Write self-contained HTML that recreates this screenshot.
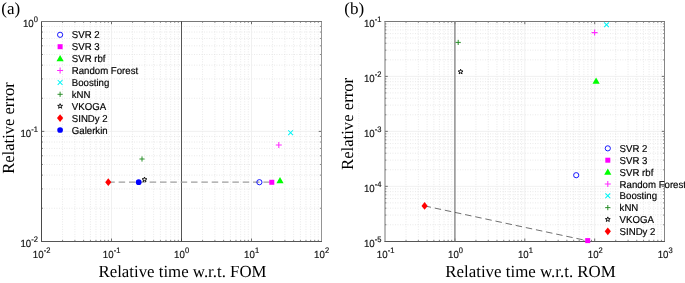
<!DOCTYPE html><html><head><meta charset="utf-8"><title>Relative error vs relative time</title>
<style>html,body{margin:0;padding:0;background:#fff}svg{display:block}text{text-rendering:geometricPrecision}.tk{font-family:"Liberation Sans",Arial,Helvetica,sans-serif;font-size:10.3px;fill:#111;stroke:#111;stroke-width:0.18px}.sup{font-size:8px}.lg{font-family:"Liberation Sans",Arial,Helvetica,sans-serif;font-size:10px;fill:#000;stroke:#000;stroke-width:0.18px}.ax{font-family:"Liberation Serif","Times New Roman",Times,serif;font-size:17px;fill:#000}</style></head><body>
<svg width="685" height="283" viewBox="0 0 685 283">
<rect width="685" height="283" fill="#fff"/>
<line x1="62.57" y1="21.40" x2="62.57" y2="241.35" stroke="#dcdcdc" stroke-width="0.7" stroke-dasharray="0.9 1.6"/>
<line x1="74.90" y1="21.40" x2="74.90" y2="241.35" stroke="#dcdcdc" stroke-width="0.7" stroke-dasharray="0.9 1.6"/>
<line x1="83.64" y1="21.40" x2="83.64" y2="241.35" stroke="#dcdcdc" stroke-width="0.7" stroke-dasharray="0.9 1.6"/>
<line x1="90.43" y1="21.40" x2="90.43" y2="241.35" stroke="#dcdcdc" stroke-width="0.7" stroke-dasharray="0.9 1.6"/>
<line x1="95.97" y1="21.40" x2="95.97" y2="241.35" stroke="#dcdcdc" stroke-width="0.7" stroke-dasharray="0.9 1.6"/>
<line x1="100.66" y1="21.40" x2="100.66" y2="241.35" stroke="#dcdcdc" stroke-width="0.7" stroke-dasharray="0.9 1.6"/>
<line x1="104.72" y1="21.40" x2="104.72" y2="241.35" stroke="#dcdcdc" stroke-width="0.7" stroke-dasharray="0.9 1.6"/>
<line x1="108.30" y1="21.40" x2="108.30" y2="241.35" stroke="#dcdcdc" stroke-width="0.7" stroke-dasharray="0.9 1.6"/>
<line x1="132.57" y1="21.40" x2="132.57" y2="241.35" stroke="#dcdcdc" stroke-width="0.7" stroke-dasharray="0.9 1.6"/>
<line x1="144.90" y1="21.40" x2="144.90" y2="241.35" stroke="#dcdcdc" stroke-width="0.7" stroke-dasharray="0.9 1.6"/>
<line x1="153.64" y1="21.40" x2="153.64" y2="241.35" stroke="#dcdcdc" stroke-width="0.7" stroke-dasharray="0.9 1.6"/>
<line x1="160.43" y1="21.40" x2="160.43" y2="241.35" stroke="#dcdcdc" stroke-width="0.7" stroke-dasharray="0.9 1.6"/>
<line x1="165.97" y1="21.40" x2="165.97" y2="241.35" stroke="#dcdcdc" stroke-width="0.7" stroke-dasharray="0.9 1.6"/>
<line x1="170.66" y1="21.40" x2="170.66" y2="241.35" stroke="#dcdcdc" stroke-width="0.7" stroke-dasharray="0.9 1.6"/>
<line x1="174.72" y1="21.40" x2="174.72" y2="241.35" stroke="#dcdcdc" stroke-width="0.7" stroke-dasharray="0.9 1.6"/>
<line x1="178.30" y1="21.40" x2="178.30" y2="241.35" stroke="#dcdcdc" stroke-width="0.7" stroke-dasharray="0.9 1.6"/>
<line x1="202.57" y1="21.40" x2="202.57" y2="241.35" stroke="#dcdcdc" stroke-width="0.7" stroke-dasharray="0.9 1.6"/>
<line x1="214.90" y1="21.40" x2="214.90" y2="241.35" stroke="#dcdcdc" stroke-width="0.7" stroke-dasharray="0.9 1.6"/>
<line x1="223.64" y1="21.40" x2="223.64" y2="241.35" stroke="#dcdcdc" stroke-width="0.7" stroke-dasharray="0.9 1.6"/>
<line x1="230.43" y1="21.40" x2="230.43" y2="241.35" stroke="#dcdcdc" stroke-width="0.7" stroke-dasharray="0.9 1.6"/>
<line x1="235.97" y1="21.40" x2="235.97" y2="241.35" stroke="#dcdcdc" stroke-width="0.7" stroke-dasharray="0.9 1.6"/>
<line x1="240.66" y1="21.40" x2="240.66" y2="241.35" stroke="#dcdcdc" stroke-width="0.7" stroke-dasharray="0.9 1.6"/>
<line x1="244.72" y1="21.40" x2="244.72" y2="241.35" stroke="#dcdcdc" stroke-width="0.7" stroke-dasharray="0.9 1.6"/>
<line x1="248.30" y1="21.40" x2="248.30" y2="241.35" stroke="#dcdcdc" stroke-width="0.7" stroke-dasharray="0.9 1.6"/>
<line x1="272.57" y1="21.40" x2="272.57" y2="241.35" stroke="#dcdcdc" stroke-width="0.7" stroke-dasharray="0.9 1.6"/>
<line x1="284.90" y1="21.40" x2="284.90" y2="241.35" stroke="#dcdcdc" stroke-width="0.7" stroke-dasharray="0.9 1.6"/>
<line x1="293.64" y1="21.40" x2="293.64" y2="241.35" stroke="#dcdcdc" stroke-width="0.7" stroke-dasharray="0.9 1.6"/>
<line x1="300.43" y1="21.40" x2="300.43" y2="241.35" stroke="#dcdcdc" stroke-width="0.7" stroke-dasharray="0.9 1.6"/>
<line x1="305.97" y1="21.40" x2="305.97" y2="241.35" stroke="#dcdcdc" stroke-width="0.7" stroke-dasharray="0.9 1.6"/>
<line x1="310.66" y1="21.40" x2="310.66" y2="241.35" stroke="#dcdcdc" stroke-width="0.7" stroke-dasharray="0.9 1.6"/>
<line x1="314.72" y1="21.40" x2="314.72" y2="241.35" stroke="#dcdcdc" stroke-width="0.7" stroke-dasharray="0.9 1.6"/>
<line x1="318.30" y1="21.40" x2="318.30" y2="241.35" stroke="#dcdcdc" stroke-width="0.7" stroke-dasharray="0.9 1.6"/>
<line x1="41.50" y1="208.24" x2="321.50" y2="208.24" stroke="#dcdcdc" stroke-width="0.7" stroke-dasharray="0.9 1.6"/>
<line x1="41.50" y1="188.88" x2="321.50" y2="188.88" stroke="#dcdcdc" stroke-width="0.7" stroke-dasharray="0.9 1.6"/>
<line x1="41.50" y1="175.14" x2="321.50" y2="175.14" stroke="#dcdcdc" stroke-width="0.7" stroke-dasharray="0.9 1.6"/>
<line x1="41.50" y1="164.48" x2="321.50" y2="164.48" stroke="#dcdcdc" stroke-width="0.7" stroke-dasharray="0.9 1.6"/>
<line x1="41.50" y1="155.77" x2="321.50" y2="155.77" stroke="#dcdcdc" stroke-width="0.7" stroke-dasharray="0.9 1.6"/>
<line x1="41.50" y1="148.41" x2="321.50" y2="148.41" stroke="#dcdcdc" stroke-width="0.7" stroke-dasharray="0.9 1.6"/>
<line x1="41.50" y1="142.03" x2="321.50" y2="142.03" stroke="#dcdcdc" stroke-width="0.7" stroke-dasharray="0.9 1.6"/>
<line x1="41.50" y1="136.41" x2="321.50" y2="136.41" stroke="#dcdcdc" stroke-width="0.7" stroke-dasharray="0.9 1.6"/>
<line x1="41.50" y1="98.27" x2="321.50" y2="98.27" stroke="#dcdcdc" stroke-width="0.7" stroke-dasharray="0.9 1.6"/>
<line x1="41.50" y1="78.90" x2="321.50" y2="78.90" stroke="#dcdcdc" stroke-width="0.7" stroke-dasharray="0.9 1.6"/>
<line x1="41.50" y1="65.16" x2="321.50" y2="65.16" stroke="#dcdcdc" stroke-width="0.7" stroke-dasharray="0.9 1.6"/>
<line x1="41.50" y1="54.51" x2="321.50" y2="54.51" stroke="#dcdcdc" stroke-width="0.7" stroke-dasharray="0.9 1.6"/>
<line x1="41.50" y1="45.80" x2="321.50" y2="45.80" stroke="#dcdcdc" stroke-width="0.7" stroke-dasharray="0.9 1.6"/>
<line x1="41.50" y1="38.44" x2="321.50" y2="38.44" stroke="#dcdcdc" stroke-width="0.7" stroke-dasharray="0.9 1.6"/>
<line x1="41.50" y1="32.06" x2="321.50" y2="32.06" stroke="#dcdcdc" stroke-width="0.7" stroke-dasharray="0.9 1.6"/>
<line x1="41.50" y1="26.43" x2="321.50" y2="26.43" stroke="#dcdcdc" stroke-width="0.7" stroke-dasharray="0.9 1.6"/>
<line x1="111.50" y1="21.40" x2="111.50" y2="241.35" stroke="#ececec" stroke-width="0.8"/>
<line x1="181.50" y1="21.40" x2="181.50" y2="241.35" stroke="#ececec" stroke-width="0.8"/>
<line x1="251.50" y1="21.40" x2="251.50" y2="241.35" stroke="#ececec" stroke-width="0.8"/>
<line x1="41.50" y1="131.38" x2="321.50" y2="131.38" stroke="#ececec" stroke-width="0.8"/>
<path d="M62.57 241.35v-1.4M62.57 21.40v1.4" stroke="#4a4a4a" stroke-width="0.7" fill="none"/>
<path d="M74.90 241.35v-1.4M74.90 21.40v1.4" stroke="#4a4a4a" stroke-width="0.7" fill="none"/>
<path d="M83.64 241.35v-1.4M83.64 21.40v1.4" stroke="#4a4a4a" stroke-width="0.7" fill="none"/>
<path d="M90.43 241.35v-1.4M90.43 21.40v1.4" stroke="#4a4a4a" stroke-width="0.7" fill="none"/>
<path d="M95.97 241.35v-1.4M95.97 21.40v1.4" stroke="#4a4a4a" stroke-width="0.7" fill="none"/>
<path d="M100.66 241.35v-1.4M100.66 21.40v1.4" stroke="#4a4a4a" stroke-width="0.7" fill="none"/>
<path d="M104.72 241.35v-1.4M104.72 21.40v1.4" stroke="#4a4a4a" stroke-width="0.7" fill="none"/>
<path d="M108.30 241.35v-1.4M108.30 21.40v1.4" stroke="#4a4a4a" stroke-width="0.7" fill="none"/>
<path d="M111.50 241.35v-2.8M111.50 21.40v2.8" stroke="#4a4a4a" stroke-width="0.8" fill="none"/>
<path d="M132.57 241.35v-1.4M132.57 21.40v1.4" stroke="#4a4a4a" stroke-width="0.7" fill="none"/>
<path d="M144.90 241.35v-1.4M144.90 21.40v1.4" stroke="#4a4a4a" stroke-width="0.7" fill="none"/>
<path d="M153.64 241.35v-1.4M153.64 21.40v1.4" stroke="#4a4a4a" stroke-width="0.7" fill="none"/>
<path d="M160.43 241.35v-1.4M160.43 21.40v1.4" stroke="#4a4a4a" stroke-width="0.7" fill="none"/>
<path d="M165.97 241.35v-1.4M165.97 21.40v1.4" stroke="#4a4a4a" stroke-width="0.7" fill="none"/>
<path d="M170.66 241.35v-1.4M170.66 21.40v1.4" stroke="#4a4a4a" stroke-width="0.7" fill="none"/>
<path d="M174.72 241.35v-1.4M174.72 21.40v1.4" stroke="#4a4a4a" stroke-width="0.7" fill="none"/>
<path d="M178.30 241.35v-1.4M178.30 21.40v1.4" stroke="#4a4a4a" stroke-width="0.7" fill="none"/>
<path d="M181.50 241.35v-2.8M181.50 21.40v2.8" stroke="#4a4a4a" stroke-width="0.8" fill="none"/>
<path d="M202.57 241.35v-1.4M202.57 21.40v1.4" stroke="#4a4a4a" stroke-width="0.7" fill="none"/>
<path d="M214.90 241.35v-1.4M214.90 21.40v1.4" stroke="#4a4a4a" stroke-width="0.7" fill="none"/>
<path d="M223.64 241.35v-1.4M223.64 21.40v1.4" stroke="#4a4a4a" stroke-width="0.7" fill="none"/>
<path d="M230.43 241.35v-1.4M230.43 21.40v1.4" stroke="#4a4a4a" stroke-width="0.7" fill="none"/>
<path d="M235.97 241.35v-1.4M235.97 21.40v1.4" stroke="#4a4a4a" stroke-width="0.7" fill="none"/>
<path d="M240.66 241.35v-1.4M240.66 21.40v1.4" stroke="#4a4a4a" stroke-width="0.7" fill="none"/>
<path d="M244.72 241.35v-1.4M244.72 21.40v1.4" stroke="#4a4a4a" stroke-width="0.7" fill="none"/>
<path d="M248.30 241.35v-1.4M248.30 21.40v1.4" stroke="#4a4a4a" stroke-width="0.7" fill="none"/>
<path d="M251.50 241.35v-2.8M251.50 21.40v2.8" stroke="#4a4a4a" stroke-width="0.8" fill="none"/>
<path d="M272.57 241.35v-1.4M272.57 21.40v1.4" stroke="#4a4a4a" stroke-width="0.7" fill="none"/>
<path d="M284.90 241.35v-1.4M284.90 21.40v1.4" stroke="#4a4a4a" stroke-width="0.7" fill="none"/>
<path d="M293.64 241.35v-1.4M293.64 21.40v1.4" stroke="#4a4a4a" stroke-width="0.7" fill="none"/>
<path d="M300.43 241.35v-1.4M300.43 21.40v1.4" stroke="#4a4a4a" stroke-width="0.7" fill="none"/>
<path d="M305.97 241.35v-1.4M305.97 21.40v1.4" stroke="#4a4a4a" stroke-width="0.7" fill="none"/>
<path d="M310.66 241.35v-1.4M310.66 21.40v1.4" stroke="#4a4a4a" stroke-width="0.7" fill="none"/>
<path d="M314.72 241.35v-1.4M314.72 21.40v1.4" stroke="#4a4a4a" stroke-width="0.7" fill="none"/>
<path d="M318.30 241.35v-1.4M318.30 21.40v1.4" stroke="#4a4a4a" stroke-width="0.7" fill="none"/>
<path d="M41.50 208.24h1.4M321.50 208.24h-1.4" stroke="#4a4a4a" stroke-width="0.7" fill="none"/>
<path d="M41.50 188.88h1.4M321.50 188.88h-1.4" stroke="#4a4a4a" stroke-width="0.7" fill="none"/>
<path d="M41.50 175.14h1.4M321.50 175.14h-1.4" stroke="#4a4a4a" stroke-width="0.7" fill="none"/>
<path d="M41.50 164.48h1.4M321.50 164.48h-1.4" stroke="#4a4a4a" stroke-width="0.7" fill="none"/>
<path d="M41.50 155.77h1.4M321.50 155.77h-1.4" stroke="#4a4a4a" stroke-width="0.7" fill="none"/>
<path d="M41.50 148.41h1.4M321.50 148.41h-1.4" stroke="#4a4a4a" stroke-width="0.7" fill="none"/>
<path d="M41.50 142.03h1.4M321.50 142.03h-1.4" stroke="#4a4a4a" stroke-width="0.7" fill="none"/>
<path d="M41.50 136.41h1.4M321.50 136.41h-1.4" stroke="#4a4a4a" stroke-width="0.7" fill="none"/>
<path d="M41.50 131.38h2.8M321.50 131.38h-2.8" stroke="#4a4a4a" stroke-width="0.8" fill="none"/>
<path d="M41.50 98.27h1.4M321.50 98.27h-1.4" stroke="#4a4a4a" stroke-width="0.7" fill="none"/>
<path d="M41.50 78.90h1.4M321.50 78.90h-1.4" stroke="#4a4a4a" stroke-width="0.7" fill="none"/>
<path d="M41.50 65.16h1.4M321.50 65.16h-1.4" stroke="#4a4a4a" stroke-width="0.7" fill="none"/>
<path d="M41.50 54.51h1.4M321.50 54.51h-1.4" stroke="#4a4a4a" stroke-width="0.7" fill="none"/>
<path d="M41.50 45.80h1.4M321.50 45.80h-1.4" stroke="#4a4a4a" stroke-width="0.7" fill="none"/>
<path d="M41.50 38.44h1.4M321.50 38.44h-1.4" stroke="#4a4a4a" stroke-width="0.7" fill="none"/>
<path d="M41.50 32.06h1.4M321.50 32.06h-1.4" stroke="#4a4a4a" stroke-width="0.7" fill="none"/>
<path d="M41.50 26.43h1.4M321.50 26.43h-1.4" stroke="#4a4a4a" stroke-width="0.7" fill="none"/>
<line x1="41.5" y1="21.0" x2="41.5" y2="242.0" stroke="#4a4a4a" stroke-width="1"/>
<line x1="321.5" y1="21.0" x2="321.5" y2="242.0" stroke="#949494" stroke-width="1"/>
<line x1="41.0" y1="21.5" x2="322.0" y2="21.5" stroke="#787878" stroke-width="1"/>
<line x1="41.0" y1="241.5" x2="322.0" y2="241.5" stroke="#555" stroke-width="1"/>
<line x1="181.50" y1="21.4" x2="181.50" y2="241.35" stroke="#3a3a3a" stroke-width="0.85"/>
<line x1="108.3" y1="182.2" x2="271.8" y2="182.2" stroke="#9e9e9e" stroke-width="1.2" stroke-dasharray="6.5 3.84"/>
<path d="M108.30 178.30L111.40 182.20L108.30 186.10L105.20 182.20Z" fill="#ff0000"/>
<circle cx="138.70" cy="182.20" r="2.85" fill="#0000ff"/>
<polygon points="144.50,177.05 145.12,178.75 146.93,178.81 145.50,179.92 146.00,181.66 144.50,180.65 143.00,181.66 143.50,179.92 142.07,178.81 143.88,178.75" fill="none" stroke="#000" stroke-width="0.9"/>
<path d="M139.40 159.00h5.2M142.00 156.40v5.2" stroke="#228b22" stroke-width="0.95" fill="none"/>
<circle cx="259.40" cy="182.20" r="2.6" fill="none" stroke="#0000ff" stroke-width="0.9"/>
<rect x="269.30" y="179.80" width="5" height="5" fill="#ff00ff"/>
<path d="M280.00 177.00L283.60 183.20L276.40 183.20Z" fill="#00ff00"/>
<path d="M275.80 144.90h6M278.80 141.90v6" stroke="#ff2cff" stroke-width="1.05" fill="none"/>
<path d="M288.20 130.25l4.8 4.8M288.20 135.05l4.8 -4.8" stroke="#00f5f5" stroke-width="1.05" fill="none"/>
<circle cx="60.10" cy="34.80" r="2.6" fill="none" stroke="#0000ff" stroke-width="0.9"/>
<rect x="57.60" y="44.20" width="5" height="5" fill="#ff00ff"/>
<path d="M60.10 55.00L63.70 61.20L56.50 61.20Z" fill="#00ff00"/>
<path d="M57.10 70.50h6M60.10 67.50v6" stroke="#ff2cff" stroke-width="1.05" fill="none"/>
<path d="M57.70 80.00l4.8 4.8M57.70 84.80l4.8 -4.8" stroke="#00f5f5" stroke-width="1.05" fill="none"/>
<path d="M57.50 94.30h5.2M60.10 91.70v5.2" stroke="#228b22" stroke-width="0.95" fill="none"/>
<polygon points="60.10,103.65 60.72,105.35 62.53,105.41 61.10,106.52 61.60,108.26 60.10,107.25 58.60,108.26 59.10,106.52 57.67,105.41 59.48,105.35" fill="none" stroke="#000" stroke-width="0.9"/>
<path d="M60.10 114.20L63.20 118.10L60.10 122.00L57.00 118.10Z" fill="#ff0000"/>
<circle cx="60.10" cy="130.00" r="2.85" fill="#0000ff"/>
<line x1="406.04" y1="21.40" x2="406.04" y2="241.30" stroke="#dcdcdc" stroke-width="0.7" stroke-dasharray="0.9 1.6"/>
<line x1="418.35" y1="21.40" x2="418.35" y2="241.30" stroke="#dcdcdc" stroke-width="0.7" stroke-dasharray="0.9 1.6"/>
<line x1="427.08" y1="21.40" x2="427.08" y2="241.30" stroke="#dcdcdc" stroke-width="0.7" stroke-dasharray="0.9 1.6"/>
<line x1="433.86" y1="21.40" x2="433.86" y2="241.30" stroke="#dcdcdc" stroke-width="0.7" stroke-dasharray="0.9 1.6"/>
<line x1="439.39" y1="21.40" x2="439.39" y2="241.30" stroke="#dcdcdc" stroke-width="0.7" stroke-dasharray="0.9 1.6"/>
<line x1="444.07" y1="21.40" x2="444.07" y2="241.30" stroke="#dcdcdc" stroke-width="0.7" stroke-dasharray="0.9 1.6"/>
<line x1="448.13" y1="21.40" x2="448.13" y2="241.30" stroke="#dcdcdc" stroke-width="0.7" stroke-dasharray="0.9 1.6"/>
<line x1="451.70" y1="21.40" x2="451.70" y2="241.30" stroke="#dcdcdc" stroke-width="0.7" stroke-dasharray="0.9 1.6"/>
<line x1="475.94" y1="21.40" x2="475.94" y2="241.30" stroke="#dcdcdc" stroke-width="0.7" stroke-dasharray="0.9 1.6"/>
<line x1="488.25" y1="21.40" x2="488.25" y2="241.30" stroke="#dcdcdc" stroke-width="0.7" stroke-dasharray="0.9 1.6"/>
<line x1="496.98" y1="21.40" x2="496.98" y2="241.30" stroke="#dcdcdc" stroke-width="0.7" stroke-dasharray="0.9 1.6"/>
<line x1="503.76" y1="21.40" x2="503.76" y2="241.30" stroke="#dcdcdc" stroke-width="0.7" stroke-dasharray="0.9 1.6"/>
<line x1="509.29" y1="21.40" x2="509.29" y2="241.30" stroke="#dcdcdc" stroke-width="0.7" stroke-dasharray="0.9 1.6"/>
<line x1="513.97" y1="21.40" x2="513.97" y2="241.30" stroke="#dcdcdc" stroke-width="0.7" stroke-dasharray="0.9 1.6"/>
<line x1="518.03" y1="21.40" x2="518.03" y2="241.30" stroke="#dcdcdc" stroke-width="0.7" stroke-dasharray="0.9 1.6"/>
<line x1="521.60" y1="21.40" x2="521.60" y2="241.30" stroke="#dcdcdc" stroke-width="0.7" stroke-dasharray="0.9 1.6"/>
<line x1="545.84" y1="21.40" x2="545.84" y2="241.30" stroke="#dcdcdc" stroke-width="0.7" stroke-dasharray="0.9 1.6"/>
<line x1="558.15" y1="21.40" x2="558.15" y2="241.30" stroke="#dcdcdc" stroke-width="0.7" stroke-dasharray="0.9 1.6"/>
<line x1="566.88" y1="21.40" x2="566.88" y2="241.30" stroke="#dcdcdc" stroke-width="0.7" stroke-dasharray="0.9 1.6"/>
<line x1="573.66" y1="21.40" x2="573.66" y2="241.30" stroke="#dcdcdc" stroke-width="0.7" stroke-dasharray="0.9 1.6"/>
<line x1="579.19" y1="21.40" x2="579.19" y2="241.30" stroke="#dcdcdc" stroke-width="0.7" stroke-dasharray="0.9 1.6"/>
<line x1="583.87" y1="21.40" x2="583.87" y2="241.30" stroke="#dcdcdc" stroke-width="0.7" stroke-dasharray="0.9 1.6"/>
<line x1="587.93" y1="21.40" x2="587.93" y2="241.30" stroke="#dcdcdc" stroke-width="0.7" stroke-dasharray="0.9 1.6"/>
<line x1="591.50" y1="21.40" x2="591.50" y2="241.30" stroke="#dcdcdc" stroke-width="0.7" stroke-dasharray="0.9 1.6"/>
<line x1="615.74" y1="21.40" x2="615.74" y2="241.30" stroke="#dcdcdc" stroke-width="0.7" stroke-dasharray="0.9 1.6"/>
<line x1="628.05" y1="21.40" x2="628.05" y2="241.30" stroke="#dcdcdc" stroke-width="0.7" stroke-dasharray="0.9 1.6"/>
<line x1="636.78" y1="21.40" x2="636.78" y2="241.30" stroke="#dcdcdc" stroke-width="0.7" stroke-dasharray="0.9 1.6"/>
<line x1="643.56" y1="21.40" x2="643.56" y2="241.30" stroke="#dcdcdc" stroke-width="0.7" stroke-dasharray="0.9 1.6"/>
<line x1="649.09" y1="21.40" x2="649.09" y2="241.30" stroke="#dcdcdc" stroke-width="0.7" stroke-dasharray="0.9 1.6"/>
<line x1="653.77" y1="21.40" x2="653.77" y2="241.30" stroke="#dcdcdc" stroke-width="0.7" stroke-dasharray="0.9 1.6"/>
<line x1="657.83" y1="21.40" x2="657.83" y2="241.30" stroke="#dcdcdc" stroke-width="0.7" stroke-dasharray="0.9 1.6"/>
<line x1="661.40" y1="21.40" x2="661.40" y2="241.30" stroke="#dcdcdc" stroke-width="0.7" stroke-dasharray="0.9 1.6"/>
<line x1="385.00" y1="224.75" x2="664.60" y2="224.75" stroke="#dcdcdc" stroke-width="0.7" stroke-dasharray="0.9 1.6"/>
<line x1="385.00" y1="215.07" x2="664.60" y2="215.07" stroke="#dcdcdc" stroke-width="0.7" stroke-dasharray="0.9 1.6"/>
<line x1="385.00" y1="208.20" x2="664.60" y2="208.20" stroke="#dcdcdc" stroke-width="0.7" stroke-dasharray="0.9 1.6"/>
<line x1="385.00" y1="202.87" x2="664.60" y2="202.87" stroke="#dcdcdc" stroke-width="0.7" stroke-dasharray="0.9 1.6"/>
<line x1="385.00" y1="198.52" x2="664.60" y2="198.52" stroke="#dcdcdc" stroke-width="0.7" stroke-dasharray="0.9 1.6"/>
<line x1="385.00" y1="194.84" x2="664.60" y2="194.84" stroke="#dcdcdc" stroke-width="0.7" stroke-dasharray="0.9 1.6"/>
<line x1="385.00" y1="191.65" x2="664.60" y2="191.65" stroke="#dcdcdc" stroke-width="0.7" stroke-dasharray="0.9 1.6"/>
<line x1="385.00" y1="188.84" x2="664.60" y2="188.84" stroke="#dcdcdc" stroke-width="0.7" stroke-dasharray="0.9 1.6"/>
<line x1="385.00" y1="169.78" x2="664.60" y2="169.78" stroke="#dcdcdc" stroke-width="0.7" stroke-dasharray="0.9 1.6"/>
<line x1="385.00" y1="160.10" x2="664.60" y2="160.10" stroke="#dcdcdc" stroke-width="0.7" stroke-dasharray="0.9 1.6"/>
<line x1="385.00" y1="153.23" x2="664.60" y2="153.23" stroke="#dcdcdc" stroke-width="0.7" stroke-dasharray="0.9 1.6"/>
<line x1="385.00" y1="147.90" x2="664.60" y2="147.90" stroke="#dcdcdc" stroke-width="0.7" stroke-dasharray="0.9 1.6"/>
<line x1="385.00" y1="143.55" x2="664.60" y2="143.55" stroke="#dcdcdc" stroke-width="0.7" stroke-dasharray="0.9 1.6"/>
<line x1="385.00" y1="139.87" x2="664.60" y2="139.87" stroke="#dcdcdc" stroke-width="0.7" stroke-dasharray="0.9 1.6"/>
<line x1="385.00" y1="136.68" x2="664.60" y2="136.68" stroke="#dcdcdc" stroke-width="0.7" stroke-dasharray="0.9 1.6"/>
<line x1="385.00" y1="133.87" x2="664.60" y2="133.87" stroke="#dcdcdc" stroke-width="0.7" stroke-dasharray="0.9 1.6"/>
<line x1="385.00" y1="114.80" x2="664.60" y2="114.80" stroke="#dcdcdc" stroke-width="0.7" stroke-dasharray="0.9 1.6"/>
<line x1="385.00" y1="105.12" x2="664.60" y2="105.12" stroke="#dcdcdc" stroke-width="0.7" stroke-dasharray="0.9 1.6"/>
<line x1="385.00" y1="98.25" x2="664.60" y2="98.25" stroke="#dcdcdc" stroke-width="0.7" stroke-dasharray="0.9 1.6"/>
<line x1="385.00" y1="92.92" x2="664.60" y2="92.92" stroke="#dcdcdc" stroke-width="0.7" stroke-dasharray="0.9 1.6"/>
<line x1="385.00" y1="88.57" x2="664.60" y2="88.57" stroke="#dcdcdc" stroke-width="0.7" stroke-dasharray="0.9 1.6"/>
<line x1="385.00" y1="84.89" x2="664.60" y2="84.89" stroke="#dcdcdc" stroke-width="0.7" stroke-dasharray="0.9 1.6"/>
<line x1="385.00" y1="81.70" x2="664.60" y2="81.70" stroke="#dcdcdc" stroke-width="0.7" stroke-dasharray="0.9 1.6"/>
<line x1="385.00" y1="78.89" x2="664.60" y2="78.89" stroke="#dcdcdc" stroke-width="0.7" stroke-dasharray="0.9 1.6"/>
<line x1="385.00" y1="59.83" x2="664.60" y2="59.83" stroke="#dcdcdc" stroke-width="0.7" stroke-dasharray="0.9 1.6"/>
<line x1="385.00" y1="50.15" x2="664.60" y2="50.15" stroke="#dcdcdc" stroke-width="0.7" stroke-dasharray="0.9 1.6"/>
<line x1="385.00" y1="43.28" x2="664.60" y2="43.28" stroke="#dcdcdc" stroke-width="0.7" stroke-dasharray="0.9 1.6"/>
<line x1="385.00" y1="37.95" x2="664.60" y2="37.95" stroke="#dcdcdc" stroke-width="0.7" stroke-dasharray="0.9 1.6"/>
<line x1="385.00" y1="33.60" x2="664.60" y2="33.60" stroke="#dcdcdc" stroke-width="0.7" stroke-dasharray="0.9 1.6"/>
<line x1="385.00" y1="29.92" x2="664.60" y2="29.92" stroke="#dcdcdc" stroke-width="0.7" stroke-dasharray="0.9 1.6"/>
<line x1="385.00" y1="26.73" x2="664.60" y2="26.73" stroke="#dcdcdc" stroke-width="0.7" stroke-dasharray="0.9 1.6"/>
<line x1="385.00" y1="23.92" x2="664.60" y2="23.92" stroke="#dcdcdc" stroke-width="0.7" stroke-dasharray="0.9 1.6"/>
<line x1="454.90" y1="21.40" x2="454.90" y2="241.30" stroke="#ececec" stroke-width="0.8"/>
<line x1="524.80" y1="21.40" x2="524.80" y2="241.30" stroke="#ececec" stroke-width="0.8"/>
<line x1="594.70" y1="21.40" x2="594.70" y2="241.30" stroke="#ececec" stroke-width="0.8"/>
<line x1="385.00" y1="186.33" x2="664.60" y2="186.33" stroke="#ececec" stroke-width="0.8"/>
<line x1="385.00" y1="131.35" x2="664.60" y2="131.35" stroke="#ececec" stroke-width="0.8"/>
<line x1="385.00" y1="76.38" x2="664.60" y2="76.38" stroke="#ececec" stroke-width="0.8"/>
<path d="M406.04 241.30v-1.4M406.04 21.40v1.4" stroke="#4a4a4a" stroke-width="0.7" fill="none"/>
<path d="M418.35 241.30v-1.4M418.35 21.40v1.4" stroke="#4a4a4a" stroke-width="0.7" fill="none"/>
<path d="M427.08 241.30v-1.4M427.08 21.40v1.4" stroke="#4a4a4a" stroke-width="0.7" fill="none"/>
<path d="M433.86 241.30v-1.4M433.86 21.40v1.4" stroke="#4a4a4a" stroke-width="0.7" fill="none"/>
<path d="M439.39 241.30v-1.4M439.39 21.40v1.4" stroke="#4a4a4a" stroke-width="0.7" fill="none"/>
<path d="M444.07 241.30v-1.4M444.07 21.40v1.4" stroke="#4a4a4a" stroke-width="0.7" fill="none"/>
<path d="M448.13 241.30v-1.4M448.13 21.40v1.4" stroke="#4a4a4a" stroke-width="0.7" fill="none"/>
<path d="M451.70 241.30v-1.4M451.70 21.40v1.4" stroke="#4a4a4a" stroke-width="0.7" fill="none"/>
<path d="M454.90 241.30v-2.8M454.90 21.40v2.8" stroke="#4a4a4a" stroke-width="0.8" fill="none"/>
<path d="M475.94 241.30v-1.4M475.94 21.40v1.4" stroke="#4a4a4a" stroke-width="0.7" fill="none"/>
<path d="M488.25 241.30v-1.4M488.25 21.40v1.4" stroke="#4a4a4a" stroke-width="0.7" fill="none"/>
<path d="M496.98 241.30v-1.4M496.98 21.40v1.4" stroke="#4a4a4a" stroke-width="0.7" fill="none"/>
<path d="M503.76 241.30v-1.4M503.76 21.40v1.4" stroke="#4a4a4a" stroke-width="0.7" fill="none"/>
<path d="M509.29 241.30v-1.4M509.29 21.40v1.4" stroke="#4a4a4a" stroke-width="0.7" fill="none"/>
<path d="M513.97 241.30v-1.4M513.97 21.40v1.4" stroke="#4a4a4a" stroke-width="0.7" fill="none"/>
<path d="M518.03 241.30v-1.4M518.03 21.40v1.4" stroke="#4a4a4a" stroke-width="0.7" fill="none"/>
<path d="M521.60 241.30v-1.4M521.60 21.40v1.4" stroke="#4a4a4a" stroke-width="0.7" fill="none"/>
<path d="M524.80 241.30v-2.8M524.80 21.40v2.8" stroke="#4a4a4a" stroke-width="0.8" fill="none"/>
<path d="M545.84 241.30v-1.4M545.84 21.40v1.4" stroke="#4a4a4a" stroke-width="0.7" fill="none"/>
<path d="M558.15 241.30v-1.4M558.15 21.40v1.4" stroke="#4a4a4a" stroke-width="0.7" fill="none"/>
<path d="M566.88 241.30v-1.4M566.88 21.40v1.4" stroke="#4a4a4a" stroke-width="0.7" fill="none"/>
<path d="M573.66 241.30v-1.4M573.66 21.40v1.4" stroke="#4a4a4a" stroke-width="0.7" fill="none"/>
<path d="M579.19 241.30v-1.4M579.19 21.40v1.4" stroke="#4a4a4a" stroke-width="0.7" fill="none"/>
<path d="M583.87 241.30v-1.4M583.87 21.40v1.4" stroke="#4a4a4a" stroke-width="0.7" fill="none"/>
<path d="M587.93 241.30v-1.4M587.93 21.40v1.4" stroke="#4a4a4a" stroke-width="0.7" fill="none"/>
<path d="M591.50 241.30v-1.4M591.50 21.40v1.4" stroke="#4a4a4a" stroke-width="0.7" fill="none"/>
<path d="M594.70 241.30v-2.8M594.70 21.40v2.8" stroke="#4a4a4a" stroke-width="0.8" fill="none"/>
<path d="M615.74 241.30v-1.4M615.74 21.40v1.4" stroke="#4a4a4a" stroke-width="0.7" fill="none"/>
<path d="M628.05 241.30v-1.4M628.05 21.40v1.4" stroke="#4a4a4a" stroke-width="0.7" fill="none"/>
<path d="M636.78 241.30v-1.4M636.78 21.40v1.4" stroke="#4a4a4a" stroke-width="0.7" fill="none"/>
<path d="M643.56 241.30v-1.4M643.56 21.40v1.4" stroke="#4a4a4a" stroke-width="0.7" fill="none"/>
<path d="M649.09 241.30v-1.4M649.09 21.40v1.4" stroke="#4a4a4a" stroke-width="0.7" fill="none"/>
<path d="M653.77 241.30v-1.4M653.77 21.40v1.4" stroke="#4a4a4a" stroke-width="0.7" fill="none"/>
<path d="M657.83 241.30v-1.4M657.83 21.40v1.4" stroke="#4a4a4a" stroke-width="0.7" fill="none"/>
<path d="M661.40 241.30v-1.4M661.40 21.40v1.4" stroke="#4a4a4a" stroke-width="0.7" fill="none"/>
<path d="M385.00 224.75h1.4M664.60 224.75h-1.4" stroke="#4a4a4a" stroke-width="0.7" fill="none"/>
<path d="M385.00 215.07h1.4M664.60 215.07h-1.4" stroke="#4a4a4a" stroke-width="0.7" fill="none"/>
<path d="M385.00 208.20h1.4M664.60 208.20h-1.4" stroke="#4a4a4a" stroke-width="0.7" fill="none"/>
<path d="M385.00 202.87h1.4M664.60 202.87h-1.4" stroke="#4a4a4a" stroke-width="0.7" fill="none"/>
<path d="M385.00 198.52h1.4M664.60 198.52h-1.4" stroke="#4a4a4a" stroke-width="0.7" fill="none"/>
<path d="M385.00 194.84h1.4M664.60 194.84h-1.4" stroke="#4a4a4a" stroke-width="0.7" fill="none"/>
<path d="M385.00 191.65h1.4M664.60 191.65h-1.4" stroke="#4a4a4a" stroke-width="0.7" fill="none"/>
<path d="M385.00 188.84h1.4M664.60 188.84h-1.4" stroke="#4a4a4a" stroke-width="0.7" fill="none"/>
<path d="M385.00 186.33h2.8M664.60 186.33h-2.8" stroke="#4a4a4a" stroke-width="0.8" fill="none"/>
<path d="M385.00 169.78h1.4M664.60 169.78h-1.4" stroke="#4a4a4a" stroke-width="0.7" fill="none"/>
<path d="M385.00 160.10h1.4M664.60 160.10h-1.4" stroke="#4a4a4a" stroke-width="0.7" fill="none"/>
<path d="M385.00 153.23h1.4M664.60 153.23h-1.4" stroke="#4a4a4a" stroke-width="0.7" fill="none"/>
<path d="M385.00 147.90h1.4M664.60 147.90h-1.4" stroke="#4a4a4a" stroke-width="0.7" fill="none"/>
<path d="M385.00 143.55h1.4M664.60 143.55h-1.4" stroke="#4a4a4a" stroke-width="0.7" fill="none"/>
<path d="M385.00 139.87h1.4M664.60 139.87h-1.4" stroke="#4a4a4a" stroke-width="0.7" fill="none"/>
<path d="M385.00 136.68h1.4M664.60 136.68h-1.4" stroke="#4a4a4a" stroke-width="0.7" fill="none"/>
<path d="M385.00 133.87h1.4M664.60 133.87h-1.4" stroke="#4a4a4a" stroke-width="0.7" fill="none"/>
<path d="M385.00 131.35h2.8M664.60 131.35h-2.8" stroke="#4a4a4a" stroke-width="0.8" fill="none"/>
<path d="M385.00 114.80h1.4M664.60 114.80h-1.4" stroke="#4a4a4a" stroke-width="0.7" fill="none"/>
<path d="M385.00 105.12h1.4M664.60 105.12h-1.4" stroke="#4a4a4a" stroke-width="0.7" fill="none"/>
<path d="M385.00 98.25h1.4M664.60 98.25h-1.4" stroke="#4a4a4a" stroke-width="0.7" fill="none"/>
<path d="M385.00 92.92h1.4M664.60 92.92h-1.4" stroke="#4a4a4a" stroke-width="0.7" fill="none"/>
<path d="M385.00 88.57h1.4M664.60 88.57h-1.4" stroke="#4a4a4a" stroke-width="0.7" fill="none"/>
<path d="M385.00 84.89h1.4M664.60 84.89h-1.4" stroke="#4a4a4a" stroke-width="0.7" fill="none"/>
<path d="M385.00 81.70h1.4M664.60 81.70h-1.4" stroke="#4a4a4a" stroke-width="0.7" fill="none"/>
<path d="M385.00 78.89h1.4M664.60 78.89h-1.4" stroke="#4a4a4a" stroke-width="0.7" fill="none"/>
<path d="M385.00 76.38h2.8M664.60 76.38h-2.8" stroke="#4a4a4a" stroke-width="0.8" fill="none"/>
<path d="M385.00 59.83h1.4M664.60 59.83h-1.4" stroke="#4a4a4a" stroke-width="0.7" fill="none"/>
<path d="M385.00 50.15h1.4M664.60 50.15h-1.4" stroke="#4a4a4a" stroke-width="0.7" fill="none"/>
<path d="M385.00 43.28h1.4M664.60 43.28h-1.4" stroke="#4a4a4a" stroke-width="0.7" fill="none"/>
<path d="M385.00 37.95h1.4M664.60 37.95h-1.4" stroke="#4a4a4a" stroke-width="0.7" fill="none"/>
<path d="M385.00 33.60h1.4M664.60 33.60h-1.4" stroke="#4a4a4a" stroke-width="0.7" fill="none"/>
<path d="M385.00 29.92h1.4M664.60 29.92h-1.4" stroke="#4a4a4a" stroke-width="0.7" fill="none"/>
<path d="M385.00 26.73h1.4M664.60 26.73h-1.4" stroke="#4a4a4a" stroke-width="0.7" fill="none"/>
<path d="M385.00 23.92h1.4M664.60 23.92h-1.4" stroke="#4a4a4a" stroke-width="0.7" fill="none"/>
<line x1="385.0" y1="21.0" x2="385.0" y2="242.0" stroke="#777" stroke-width="1"/>
<line x1="664.5" y1="21.0" x2="664.5" y2="242.0" stroke="#858585" stroke-width="1"/>
<line x1="384.5" y1="21.5" x2="665.0" y2="21.5" stroke="#787878" stroke-width="1"/>
<line x1="384.5" y1="241.5" x2="665.0" y2="241.5" stroke="#555" stroke-width="1"/>
<line x1="454.90" y1="21.4" x2="454.90" y2="241.3" stroke="#8a8a8a" stroke-width="1.4"/>
<line x1="424.6" y1="205.9" x2="587.7" y2="240.8" stroke="#4d4d4d" stroke-width="0.8" stroke-dasharray="6.5 3.85"/>
<path d="M424.60 202.00L427.70 205.90L424.60 209.80L421.50 205.90Z" fill="#ff0000"/>
<circle cx="576.20" cy="175.20" r="2.6" fill="none" stroke="#0000ff" stroke-width="0.9"/>
<rect x="585.20" y="238.10" width="5" height="5" fill="#ff00ff"/>
<path d="M596.10 77.60L599.70 83.80L592.50 83.80Z" fill="#00ff00"/>
<path d="M591.60 32.60h6M594.60 29.60v6" stroke="#ff2cff" stroke-width="1.05" fill="none"/>
<path d="M604.10 22.40l4.8 4.8M604.10 27.20l4.8 -4.8" stroke="#00f5f5" stroke-width="1.05" fill="none"/>
<path d="M455.60 42.40h5.2M458.20 39.80v5.2" stroke="#228b22" stroke-width="0.95" fill="none"/>
<polygon points="460.60,69.25 461.22,70.95 463.03,71.01 461.60,72.12 462.10,73.86 460.60,72.85 459.10,73.86 459.60,72.12 458.17,71.01 459.98,70.95" fill="none" stroke="#000" stroke-width="0.9"/>
<circle cx="607.80" cy="148.35" r="2.6" fill="none" stroke="#0000ff" stroke-width="0.9"/>
<rect x="605.30" y="157.70" width="5" height="5" fill="#ff00ff"/>
<path d="M607.80 168.45L611.40 174.65L604.20 174.65Z" fill="#00ff00"/>
<path d="M604.80 183.90h6M607.80 180.90v6" stroke="#ff2cff" stroke-width="1.05" fill="none"/>
<path d="M605.40 193.35l4.8 4.8M605.40 198.15l4.8 -4.8" stroke="#00f5f5" stroke-width="1.05" fill="none"/>
<path d="M605.20 207.60h5.2M607.80 205.00v5.2" stroke="#228b22" stroke-width="0.95" fill="none"/>
<polygon points="607.80,216.90 608.42,218.60 610.23,218.66 608.80,219.77 609.30,221.51 607.80,220.50 606.30,221.51 606.80,219.77 605.37,218.66 607.18,218.60" fill="none" stroke="#000" stroke-width="0.9"/>
<path d="M607.80 227.40L610.90 231.30L607.80 235.20L604.70 231.30Z" fill="#ff0000"/>
<line x1="358.8" y1="103" x2="358.8" y2="158" stroke="#e4e4e4" stroke-width="0.8" stroke-dasharray="0.9 1.6"/>
<g style="filter:grayscale(1)">
<text class="tk" text-anchor="middle" transform="translate(41.60,257.65) scale(0.94,1)">10<tspan class="sup" dy="-4.8">-2</tspan></text>
<text class="tk" text-anchor="middle" transform="translate(111.60,257.65) scale(0.94,1)">10<tspan class="sup" dy="-4.8">-1</tspan></text>
<text class="tk" text-anchor="middle" transform="translate(181.60,257.65) scale(0.94,1)">10<tspan class="sup" dy="-4.8">0</tspan></text>
<text class="tk" text-anchor="middle" transform="translate(251.60,257.65) scale(0.94,1)">10<tspan class="sup" dy="-4.8">1</tspan></text>
<text class="tk" text-anchor="middle" transform="translate(321.60,257.65) scale(0.94,1)">10<tspan class="sup" dy="-4.8">2</tspan></text>
<text class="tk" text-anchor="end" transform="translate(37.90,247.15) scale(0.94,1)">10<tspan class="sup" dy="-4.8">-2</tspan></text>
<text class="tk" text-anchor="end" transform="translate(37.90,137.18) scale(0.94,1)">10<tspan class="sup" dy="-4.8">-1</tspan></text>
<text class="tk" text-anchor="end" transform="translate(37.90,27.20) scale(0.94,1)">10<tspan class="sup" dy="-4.8">0</tspan></text>
<text class="lg" transform="translate(71.8,38.40) scale(0.963,1)">SVR 2</text>
<text class="lg" transform="translate(71.8,50.30) scale(0.963,1)">SVR 3</text>
<text class="lg" transform="translate(71.8,62.20) scale(0.963,1)">SVR rbf</text>
<text class="lg" transform="translate(71.8,74.10) scale(0.963,1)">Random Forest</text>
<text class="lg" transform="translate(71.8,86.00) scale(0.963,1)">Boosting</text>
<text class="lg" transform="translate(71.8,97.90) scale(0.963,1)">kNN</text>
<text class="lg" transform="translate(71.8,109.80) scale(0.963,1)">VKOGA</text>
<text class="lg" transform="translate(71.8,121.70) scale(0.963,1)">SINDy 2</text>
<text class="lg" transform="translate(71.8,133.60) scale(0.963,1)">Galerkin</text>
<text class="ax" x="1.3" y="14">(a)</text>
<text class="ax" transform="translate(14.3,173.8) rotate(-90)" textLength="91.5" lengthAdjust="spacingAndGlyphs">Relative error</text>
<text class="ax" x="98.5" y="276.6" textLength="168" lengthAdjust="spacingAndGlyphs">Relative time w.r.t. FOM</text>
<text class="tk" text-anchor="middle" transform="translate(385.60,257.60) scale(0.94,1)">10<tspan class="sup" dy="-4.8">-1</tspan></text>
<text class="tk" text-anchor="middle" transform="translate(455.50,257.60) scale(0.94,1)">10<tspan class="sup" dy="-4.8">0</tspan></text>
<text class="tk" text-anchor="middle" transform="translate(525.40,257.60) scale(0.94,1)">10<tspan class="sup" dy="-4.8">1</tspan></text>
<text class="tk" text-anchor="middle" transform="translate(595.30,257.60) scale(0.94,1)">10<tspan class="sup" dy="-4.8">2</tspan></text>
<text class="tk" text-anchor="middle" transform="translate(665.20,257.60) scale(0.94,1)">10<tspan class="sup" dy="-4.8">3</tspan></text>
<text class="tk" text-anchor="end" transform="translate(381.40,247.10) scale(0.94,1)">10<tspan class="sup" dy="-4.8">-5</tspan></text>
<text class="tk" text-anchor="end" transform="translate(381.40,192.13) scale(0.94,1)">10<tspan class="sup" dy="-4.8">-4</tspan></text>
<text class="tk" text-anchor="end" transform="translate(381.40,137.15) scale(0.94,1)">10<tspan class="sup" dy="-4.8">-3</tspan></text>
<text class="tk" text-anchor="end" transform="translate(381.40,82.17) scale(0.94,1)">10<tspan class="sup" dy="-4.8">-2</tspan></text>
<text class="tk" text-anchor="end" transform="translate(381.40,27.20) scale(0.94,1)">10<tspan class="sup" dy="-4.8">-1</tspan></text>
<text class="lg" transform="translate(619.6,151.95) scale(0.963,1)">SVR 2</text>
<text class="lg" transform="translate(619.6,163.80) scale(0.963,1)">SVR 3</text>
<text class="lg" transform="translate(619.6,175.65) scale(0.963,1)">SVR rbf</text>
<text class="lg" transform="translate(619.6,187.50) scale(0.963,1)">Random Forest</text>
<text class="lg" transform="translate(619.6,199.35) scale(0.963,1)">Boosting</text>
<text class="lg" transform="translate(619.6,211.20) scale(0.963,1)">kNN</text>
<text class="lg" transform="translate(619.6,223.05) scale(0.963,1)">VKOGA</text>
<text class="lg" transform="translate(619.6,234.90) scale(0.963,1)">SINDy 2</text>
<text class="ax" x="344.3" y="14">(b)</text>
<text class="ax" transform="translate(352.9,169.9) rotate(-90)" textLength="92" lengthAdjust="spacingAndGlyphs">Relative error</text>
<text class="ax" x="445.3" y="276.6" textLength="170.5" lengthAdjust="spacingAndGlyphs">Relative time w.r.t. ROM</text>
</g>
</svg></body></html>
